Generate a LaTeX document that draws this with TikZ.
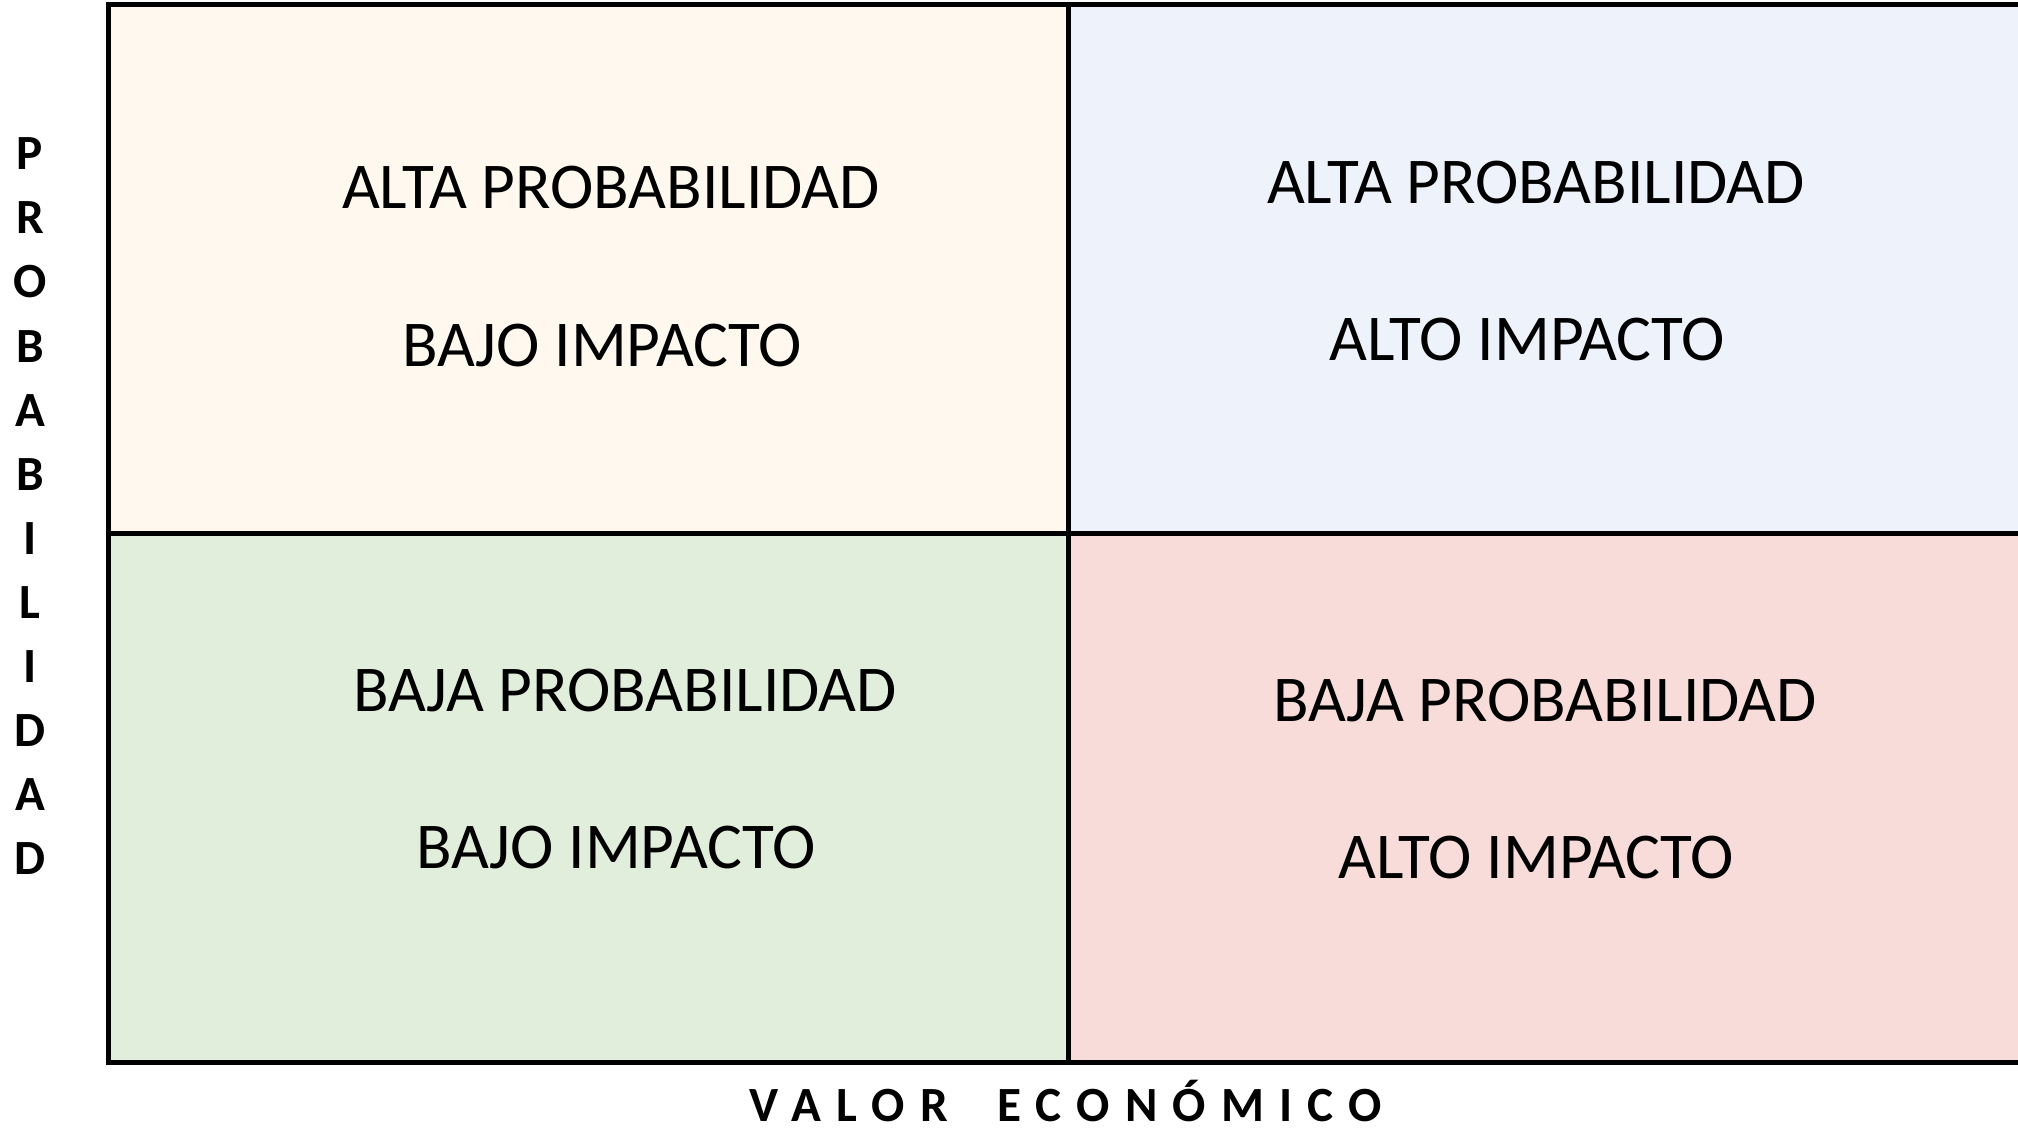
\documentclass[tikz,border=0pt]{standalone}
\usepackage{fontspec}
\setmainfont{Carlito}
\usepackage{tikz}
\definecolor{crema}{HTML}{FEF8EE}
\definecolor{celeste}{HTML}{EEF3FB}
\definecolor{verdoso}{HTML}{E2EEDC}
\definecolor{rosado}{HTML}{F8DCD9}

\begin{document}
\begin{tikzpicture}[x=0.1mm,y=-0.1mm,
  linea/.style={line width=0.5mm,black},
  texto/.style={anchor=base,inner sep=0pt,font=\fontsize{18.6}{22}\selectfont},
  eje/.style={anchor=base,inner sep=0pt,font=\fontsize{14}{17}\selectfont\bfseries}]
 \def\xL{108}  % borde izq
 \def\xM{1068} % division vertical
 \def\xR{2040} % borde der (queda fuera)
 \def\yT{4.5}
 \def\yM{533}
 \def\yB{1062}
 \useasboundingbox (0,0) rectangle (2018,1128);
% cuadrantes
 \fill[crema] (\xL,\yT) rectangle (\xM,\yM);
 \fill[celeste] (\xM,\yT) rectangle (\xR,\yM);
 \fill[verdoso] (\xL,\yM) rectangle (\xM,\yB);
 \fill[rosado] (\xM,\yM) rectangle (\xR,\yB);
 \draw[linea] (\xL,\yT) rectangle (\xR,\yB);
 \draw[linea] (\xM,\yT) -- (\xM,\yB);
 \draw[linea] (\xL,\yM) -- (\xR,\yM);
% textos de cada cuadrante
 \node[texto] (altaB) at (611,209) {ALTA PROBABILIDAD};
 \node[texto] (bajoA) at (602,367) {BAJO IMPACTO};
 \node[texto] (altaA) at (1536,204) {ALTA PROBABILIDAD};
 \node[texto] (altoA) at (1527,361) {ALTO IMPACTO};
 \node[texto] (bajaB) at (625,711) {BAJA PROBABILIDAD};
 \node[texto] (bajoB) at (616,868) {BAJO IMPACTO};
 \node[texto] (bajaA) at (1545,721) {BAJA PROBABILIDAD};
 \node[texto] (altoB) at (1536,878) {ALTO IMPACTO};
% ejes
 \foreach \l [count=\i from 0] in {P,R,O,B,A,B,I,L,I,D,A,D}
  \node[eje] (prob\i) at (30,170+64*\i) {\l};
 \node[eje] (valor) at (1066,1121) {\addfontfeature{LetterSpace=31}VALOR\hspace{1em}ECONÓMICO};
\end{tikzpicture}
\end{document}
